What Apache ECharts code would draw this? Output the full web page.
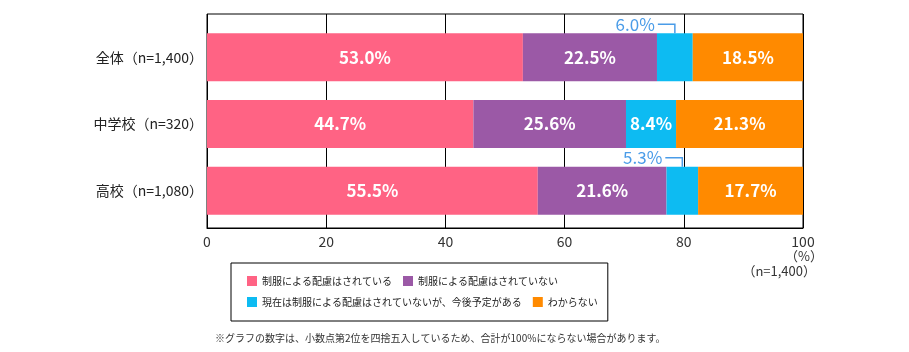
<!DOCTYPE html>
<html>
<head>
<meta charset="utf-8">
<script src="https://cdn.jsdelivr.net/npm/echarts@6/dist/echarts.min.js"></script>
<style>
  html, body { margin: 0; padding: 0; background: #fff; }
  #chart { width: 909px; height: 352px; }
</style>
</head>
<body>
<div id="chart"></div>
<script>
// datos
const categorias = ['全体（n=1,400）', '中学校（n=320）', '高校（n=1,080）'];
const nombres = [
    '制服による配慮はされている',
    '制服による配慮はされていない',
    '現在は制服による配慮はされていないが、今後予定がある',
    'わからない'
];
const hairyoAri = [53.0, 44.7, 55.5];
const hairyoNashi = [22.5, 25.6, 21.6];
const yoteiAri = [6.0, 8.4, 5.3];
const wakaranai = [18.5, 21.3, 17.7];
const filasCallout = [0, 2];   // filas donde la etiqueta va fuera de la barra
const nota = '※グラフの数字は、小数点第2位を四捨五入しているため、合計が100%にならない場合があります。';

const colores = ['#FF6384', '#9B59A6', '#0DBBF2', '#FF8A00'];
const azulTexto = '#4A9CE8';
const fuente = '"Noto Sans CJK JP", "Noto Sans", sans-serif';
const anchoBarra = 48;

const chart = echarts.init(document.getElementById('chart'));

function serieBarra(i, valores) {
    return {
        name: nombres[i],
        type: 'bar',
        stack: 'total',
        xAxisIndex: 1,
        yAxisIndex: 1,
        barWidth: anchoBarra,
        itemStyle: { color: colores[i] },
        label: {
            show: true,
            position: 'inside',
            color: '#fff',
            fontSize: 17,
            fontWeight: 'bold',
            fontFamily: fuente,
            formatter: p => p.value.toFixed(1) + '%'
        },
        data: valores.map((v, idx) => {
            if (i === 2 && filasCallout.includes(idx)) {
                return { value: v, label: { show: false } };
            }
            return v;
        })
    };
}

const datosCallout = filasCallout.map(idx => [idx, hairyoAri[idx] + hairyoNashi[idx], yoteiAri[idx]]);

chart.setOption({
    animation: false,
    textStyle: { fontFamily: fuente },
    grid: [
        { left: 207, top: 14, width: 596, height: 214, show: true, borderColor: '#000', borderWidth: 1 },
        { left: 207, top: 24, width: 596, height: 200 }
    ],
    xAxis: [
        {
            gridIndex: 0, type: 'value', min: 0, max: 100, interval: 20,
            axisLine: { show: true, lineStyle: { color: '#000', width: 1 } },
            axisTick: { show: false },
            splitLine: { show: true, lineStyle: { color: '#000', width: 1 } },
            axisLabel: { color: '#333', fontSize: 14, margin: 7 }
        },
        { gridIndex: 1, type: 'value', min: 0, max: 100, show: false }
    ],
    yAxis: [
        { gridIndex: 0, type: 'value', show: false },
        {
            gridIndex: 1, type: 'category', inverse: true, data: categorias,
            axisLine: { show: false },
            axisTick: { show: false },
            axisLabel: { color: '#222', fontSize: 14, margin: 4 }
        }
    ],
    legend: {
        left: 231,
        top: 263,
        width: 368,
        padding: [13, 10, 14, 16],
        borderColor: '#000',
        borderWidth: 1,
        itemWidth: 10,
        itemHeight: 10,
        itemGap: 11,
        icon: 'rect',
        textStyle: { fontSize: 10, color: '#222', fontFamily: fuente },
        data: nombres
    },
    series: [
        serieBarra(0, hairyoAri),
        serieBarra(1, hairyoNashi),
        serieBarra(2, yoteiAri),
        serieBarra(3, wakaranai),
        {
            type: 'custom',
            name: 'callout',
            xAxisIndex: 1,
            yAxisIndex: 1,
            z: 5,
            data: datosCallout,
            renderItem: (params, api) => {
                const inicio = api.value(1);
                const v = api.value(2);
                const c = api.coord([inicio + v / 2, api.value(0)]);
                const arriba = c[1] - anchoBarra / 2;
                const yLinea = arriba - 9;
                return {
                    type: 'group',
                    children: [
                        {
                            type: 'polyline',
                            shape: { points: [[c[0], arriba], [c[0], yLinea], [c[0] - 17, yLinea]] },
                            style: { stroke: azulTexto, lineWidth: 1.5, fill: null }
                        },
                        {
                            type: 'text',
                            x: c[0] - 20,
                            y: yLinea,
                            style: {
                                text: v.toFixed(1) + '%',
                                align: 'right',
                                verticalAlign: 'middle',
                                fill: azulTexto,
                                fontSize: 17,
                                fontFamily: fuente
                            }
                        }
                    ]
                };
            }
        }
    ],
    graphic: [
        {
            type: 'text', x: 804, y: 256,
            style: { text: '（%）', align: 'center', verticalAlign: 'middle', fill: '#333', fontSize: 13, fontFamily: fuente }
        },
        {
            type: 'text', x: 816, y: 271,
            style: { text: '（n=1,400）', align: 'right', verticalAlign: 'middle', fill: '#333', fontSize: 13, fontFamily: fuente }
        },
        {
            type: 'text', x: 215, y: 338,
            style: { text: nota, align: 'left', verticalAlign: 'middle', fill: '#333', fontSize: 10, fontFamily: fuente }
        }
    ]
});

window.addEventListener('resize', () => chart.resize());
</script>
</body>
</html>
